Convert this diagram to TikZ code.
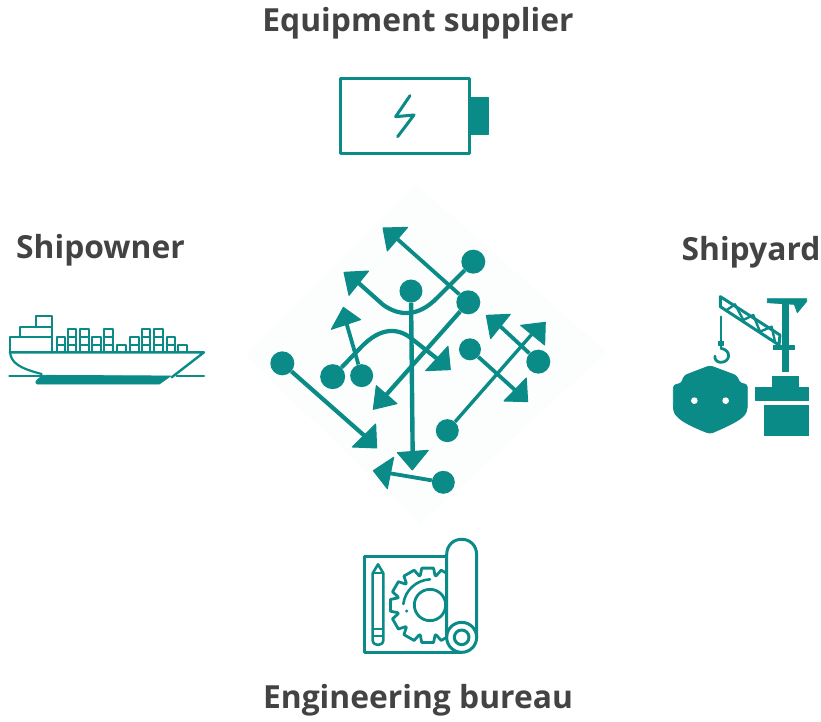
\documentclass[tikz,border=0pt]{standalone}
\usepackage{fontspec}
\setmainfont{Open Sans}
\definecolor{teal1}{HTML}{0B8B87}
\definecolor{txt}{HTML}{434343}
\definecolor{pale}{HTML}{FCFEFD}
\tikzset{
  lbl/.style={font=\fontsize{31.8}{34}\selectfont\bfseries,text=txt,inner sep=0pt},
  dot/.style={circle,fill=teal1,inner sep=0pt,minimum size=#1},
  conn/.style={draw=teal1,line width=#1,line join=round},
  conn/.default=3.8pt,
  head/.style={fill=teal1,draw=teal1,line width=1pt,line join=round},
  icon/.style={draw=teal1,line width=#1,line join=round,line cap=round},
  icon/.default=2pt,
  solid teal/.style={fill=teal1,draw=teal1,line width=.8pt,line join=round}
}
\begin{document}
\begin{tikzpicture}[x=1pt,y=-1pt]
\useasboundingbox (0,0) rectangle (821,721);
% labels
\node[lbl] (t1) at (418,23) {Equipment supplier};
\node[lbl] (t2) at (100.5,250) {Shipowner};
\node[lbl] (t3) at (751,252) {Shipyard};
\node[lbl] (t4) at (418,700) {Engineering bureau};
% pale diamond
\fill[pale] (415,183) -- (607,352) -- (420,525) -- (245,355) -- cycle;
% centre network
\begin{scope}[shift={(250,200)},x=0.3333pt,y=-0.3333pt]
  \node[dot=24pt] (A) at (670,185) {};
  \node[dot=24pt] (B) at (655,307) {};
  \node[dot=23pt] (C) at (483,273) {};
  \node[dot=24pt] (D) at (97,490) {};
  \node[dot=25pt] (E) at (248,530) {};
  \node[dot=23pt] (F) at (335,527) {};
  \node[dot=22pt] (G) at (660,448) {};
  \node[dot=24pt] (H) at (865,485) {};
  \node[dot=23pt] (I) at (592,692) {};
  \node[dot=23pt] (J) at (580,847) {};
  \coordinate (a1) at (443,118);
  \coordinate (a2) at (327,250);
  \coordinate (a3) at (288,365);
  \coordinate (a4) at (560,475);
  \coordinate (a5) at (410,583);
  \coordinate (a6) at (342,706);
  \coordinate (a7) at (488,755);
  \coordinate (a8) at (420,820);
  \coordinate (a9) at (795,570);
  \coordinate (a10) at (752,380);
  \coordinate (a11) at (848,400);
  \draw[conn] (B) -- (a1);
  \draw[conn=4.2pt] (A) -- (560,295) .. controls (505,350) and (450,350) .. (400,315) -- (a2);
  \draw[conn] (F) -- (a3);
  \draw[conn=4.2pt] (E) -- (330,445) .. controls (395,375) and (450,385) .. (490,420) -- (a4);
  \draw[conn=4.2pt] (B) -- (a5);
  \draw[conn=4.2pt] (D) -- (a6);
  \draw[conn=4.4pt] (C) -- (a7);
  \draw[conn] (J) -- (a8);
  \draw[conn] (G) -- (a9);
  \draw[conn] (H) -- (a10);
  \draw[conn=3.4pt] (I) -- (a11);
  \filldraw[head] (399,84) -- (473,82) -- (412,153) -- cycle;
  \filldraw[head] (282,217) -- (356,213) -- (297,286) -- cycle;
  \filldraw[head] (280,322) -- (332,359) -- (244,388) -- cycle;
  \filldraw[head] (601,509) -- (527,512) -- (594,439) -- cycle;
  \filldraw[head] (370,628) -- (441,611) -- (379,557) -- cycle;
  \filldraw[head] (380,744) -- (307,741) -- (377,672) -- cycle;
  \filldraw[head] (487,810) -- (442,758) -- (535,751) -- cycle;
  \filldraw[head] (370,812) -- (431,772) -- (412,866) -- cycle;
  \filldraw[head] (833,605) -- (762,603) -- (829,534) -- cycle;
  \filldraw[head] (709,346) -- (781,343) -- (722,416) -- cycle;
  \filldraw[head] (886,367) -- (812,376) -- (884,435) -- cycle;
\end{scope}
% battery
\begin{scope}[shift={(330,65)},x=0.3333pt,y=-0.3333pt]
  \draw[icon=3pt] (30,40) rectangle (418,265);
  \filldraw[solid teal] (418,97) -- (474,97) -- (474,207) -- (418,207) -- cycle;
  \draw[icon=3pt] (240,92) -- (197,155) -- (252,150) -- (203,215);
\end{scope}
% ship
\begin{scope}[shift={(0,300)},x=0.3333pt,y=-0.3333pt]
  \draw[icon=2.2pt] (30,157) -- (30,110) -- (155,110) -- (155,157);
  \draw[icon=2.2pt] (60,110) -- (60,82) -- (155,82);
  \draw[icon=2.2pt] (107,82) -- (107,48) -- (157,48) -- (157,157);
  \foreach \x/\n in {170/2,203/3,240/3,277/2,313/3,352/1,390/2,425/3,462/3,500/2,535/1}{
    \foreach \k in {1,...,\n}{
      \draw[icon=2pt] (\x,{157-(\k-1)*23}) rectangle ++(26,-23);
    }
  }
  \draw[icon=2.4pt] (30,157) -- (612,157) -- (515,232);
  \draw[icon=2.2pt] (30,157) .. controls (34,190) and (60,205) .. (125,222);
  \draw[icon=2.2pt] (28,228) -- (130,228);
  \draw[icon=2.2pt] (530,228) -- (612,228);
  \filldraw[solid teal] (130,226) -- (512,228) -- (478,252) -- (112,252) .. controls (104,248) and (104,243) .. (130,226) -- cycle;
\end{scope}
% shipyard
\begin{scope}[shift={(660,285)},x=0.3333pt,y=-0.3333pt]
  \draw[icon=3pt] (181,35) -- (360,150) -- (357,180) -- (181,65) -- cycle;
  \draw[icon=2.4pt] (200,75) -- (225,58) -- (250,105) -- (280,90) -- (300,140) -- (335,125) -- (345,170);
  \filldraw[solid teal] (366,42) rectangle (384,258);
  \filldraw[solid teal] (322,41) -- (440,41) -- (440,49) -- (412,83) -- (403,58) -- (322,53) -- cycle;
  \filldraw[solid teal] (340,180) rectangle (402,194);
  \draw[icon=2.4pt] (183,95) -- (183,190);
  \draw[icon=2.8pt] (183,190) .. controls (215,195) and (212,232) .. (182,232) .. controls (170,232) and (163,222) .. (165,213);
  \filldraw[solid teal] (175,168) -- (191,168) -- (191,180) -- (175,180) -- cycle;
  \filldraw[solid teal,rounded corners=3pt] (40,300) -- (65,295) -- (72,272) -- (150,242) -- (230,272) -- (240,295) -- (262,298) -- (262,368) .. controls (255,395) and (235,410) .. (150,446) .. controls (70,415) and (45,395) .. (40,368) -- cycle;
  \fill[white] (103,347) circle (10);
  \fill[white] (197,347) circle (10);
  \filldraw[solid teal] (338,273) -- (415,273) -- (415,308) -- (446,308) -- (446,345) -- (285,345) -- (285,308) -- (338,308) -- cycle;
  \filldraw[solid teal] (312,360) rectangle (446,452);
\end{scope}
% blueprint
\begin{scope}[shift={(350,530)},x=0.3333pt,y=-0.3333pt]
  \begin{scope}
    \clip (42,80) rectangle (290,368);
    \draw[icon=2.8pt] \foreach \a in {0,30,...,330}{
      ({233+92*cos(\a-14)},{226+92*sin(\a-14)}) -- ({233+113*cos(\a-9)},{226+113*sin(\a-9)}) -- ({233+113*cos(\a+9)},{226+113*sin(\a+9)}) -- ({233+92*cos(\a+14)},{226+92*sin(\a+14)}) -- ({233+92*cos(\a+16)},{226+92*sin(\a+16)})
    };
    \draw[icon=2.8pt] (240,225) circle (47);
  \end{scope}
  \draw[icon=2.6pt] (240,148) .. controls (200,150) and (165,180) .. (160,222);
  \fill[teal1] (170,243) circle (5);
  \draw[icon=3pt] (290,80) -- (42,80) -- (42,368) -- (335,368);
  \draw[icon=3pt] (290,320) -- (290,75) .. controls (290,12) and (380,12) .. (380,75) -- (380,322);
  \draw[icon=3pt] (335,322) circle (45);
  \draw[icon=3pt] (335,322) circle (22);
  \draw[icon=2.6pt] (68,130) -- (84,103) -- (100,130) -- (100,330) .. controls (100,350) and (68,350) .. (68,330) -- cycle;
  \draw[icon=2.2pt] (68,130) -- (100,130) (68,298) -- (100,298) (68,318) -- (100,318);
\end{scope}
\end{tikzpicture}
\end{document}
